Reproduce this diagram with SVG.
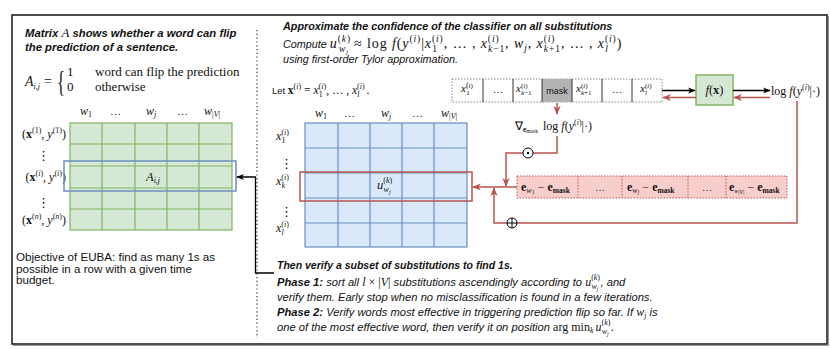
<svg xmlns="http://www.w3.org/2000/svg" width="830" height="350" viewBox="0 0 830 350">
<style>
.sans{font-family:"Liberation Sans",Arial,sans-serif;fill:#111}
.bi{font-weight:bold;font-style:italic}
.it{font-style:italic}
.m{font-family:"Liberation Serif","Times New Roman",serif;font-style:italic;fill:#111}
.up{font-family:"Liberation Serif","Times New Roman",serif;font-style:normal;font-weight:normal}
.bx{font-family:"Liberation Serif","Times New Roman",serif;font-style:normal;font-weight:bold}
.s{font-size:8px}
.s9{font-size:9.5px}
.ss{font-size:6px}
.vd{font-family:"DejaVu Sans",sans-serif;font-size:13px;fill:#111}
.g{fill:#d5e8d4;stroke:#82b366;stroke-width:1.2}
.gl{stroke:#82b366;stroke-width:1.2}
.b{fill:#dae8fc;stroke:#6c8ebf;stroke-width:1.2}
.bl{stroke:#6c8ebf;stroke-width:1.2}
.rd{fill:#f8cecc;stroke:#b85450;stroke-width:1;stroke-dasharray:1.5 1.5}
.rdl{stroke:#b85450;stroke-width:1;stroke-dasharray:1.5 1.5}
.redc{fill:none;stroke:#b85450;stroke-width:1.5}
.blk{fill:none;stroke:#000;stroke-width:1.3}
.op{fill:#fff;stroke:#000;stroke-width:1}
.cm .m,.cm .up{letter-spacing:0.9px}
</style>
<defs>
<marker id="ak" viewBox="0 0 10 10" refX="9" refY="5" markerWidth="8" markerHeight="8" orient="auto" markerUnits="userSpaceOnUse"><path d="M0,1 L10,5 L0,9 L3,5 z" fill="#000"/></marker>
<marker id="ar" viewBox="0 0 10 10" refX="9" refY="5" markerWidth="9" markerHeight="9" orient="auto" markerUnits="userSpaceOnUse"><path d="M0,1 L10,5 L0,9 L3,5 z" fill="#b85450"/></marker>
</defs>
<rect width="830" height="350" fill="#fff"/>
<!-- frame -->
<rect x="12" y="15" width="815" height="329" fill="none" stroke="#222" stroke-width="1.6"/>
<path d="M828.5 16 V345.5 H13" fill="none" stroke="#999" stroke-width="1"/>
<line x1="257" y1="30" x2="257" y2="338" stroke="#333" stroke-width="1.2" stroke-dasharray="1.2 2.6"/>

<!-- left panel -->
<g id="left-title">
<text class="sans bi" font-size="11.3" x="25" y="37">Matrix <tspan class="m" font-weight="normal" font-size="13">A</tspan> shows whether a word can flip</text>
<text class="sans bi" font-size="11.3" x="25" y="51">the prediction of a sentence.</text>
</g>
<g id="formula">
<text class="m" font-size="14" x="25" y="86">A<tspan class="s" font-size="9" dy="3">i,j</tspan><tspan class="up" font-size="14" dy="-3" dx="4">=</tspan></text>
<text class="up" font-size="30" x="0" y="0" transform="translate(57,91) scale(0.55,1)" fill="#111">{</text>
<text class="up" font-size="13" x="67" y="76" fill="#111">1</text>
<text class="up" font-size="13" x="95" y="76" fill="#111">word can flip the prediction</text>
<text class="up" font-size="13" x="67" y="91" fill="#111">0</text>
<text class="up" font-size="13" x="95" y="91" fill="#111">otherwise</text>
</g>
<g id="matrix-A">
<text class="m" font-size="12" x="80" y="115">w<tspan class="up s" dy="2">1</tspan></text>
<text class="up" font-size="11" x="110" y="115" fill="#111">…</text>
<text class="m" font-size="12" x="146" y="115">w<tspan class="s" dy="2">j</tspan></text>
<text class="up" font-size="11" x="177" y="115" fill="#111">…</text>
<text class="m" font-size="12" x="204" y="115">w<tspan class="up s" dy="2">|</tspan><tspan class="s">V</tspan><tspan class="up s">|</tspan></text>
<rect class="g" x="70" y="123" width="162" height="107"/>
<path class="gl" d="M102 123V230M135 123V230M167 123V230M199 123V230M70 144H232M70 166H232M70 188H232M70 209H232"/>
<text class="m" font-size="12.5" x="146" y="181">A<tspan class="s" dy="2">i,j</tspan></text>
<text class="m" font-size="12" x="66" y="138" text-anchor="end"><tspan class="up">(</tspan><tspan class="bx">x</tspan><tspan class="up s" dy="-5">(1)</tspan><tspan dy="5">, y</tspan><tspan class="up s" dy="-5">(1)</tspan><tspan class="up" dy="5">)</tspan></text>
<text class="vd" x="37" y="160">⋮</text>
<text class="m" font-size="12" x="66" y="181" text-anchor="end"><tspan class="up">(</tspan><tspan class="bx">x</tspan><tspan class="up s" dy="-5">(</tspan><tspan class="s">i</tspan><tspan class="up s">)</tspan><tspan dy="5">, y</tspan><tspan class="up s" dy="-5">(</tspan><tspan class="s">i</tspan><tspan class="up s">)</tspan><tspan class="up" dy="5">)</tspan></text>
<text class="vd" x="37" y="207">⋮</text>
<text class="m" font-size="12" x="66" y="224" text-anchor="end"><tspan class="up">(</tspan><tspan class="bx">x</tspan><tspan class="up s" dy="-5">(</tspan><tspan class="s">n</tspan><tspan class="up s">)</tspan><tspan dy="5">, y</tspan><tspan class="up s" dy="-5">(</tspan><tspan class="s">n</tspan><tspan class="up s">)</tspan><tspan class="up" dy="5">)</tspan></text>
<rect x="64" y="161" width="172" height="30" fill="none" stroke="#6c8ebf" stroke-width="1.5"/>
</g>
<g id="objective">
<text class="sans" font-size="11.6" x="16" y="261">Objective of EUBA: find as many 1s as</text>
<text class="sans" font-size="11.6" x="16" y="272.5">possible in a row with a given time</text>
<text class="sans" font-size="11.6" x="16" y="284">budget.</text>
</g>

<!-- right panel -->
<g id="right-title">
<text class="sans bi" font-size="10.8" x="283" y="30">Approximate the confidence of the classifier on all substitutions</text>
<text class="sans it cm" font-size="10.8" x="283" y="48">Compute <tspan class="m" font-size="14">u</tspan><tspan class="m up s9" dy="-6">(</tspan><tspan class="m s9">k</tspan><tspan class="m up s9">)</tspan><tspan class="m s9" dx="-12" dy="9.5">w</tspan><tspan class="m" font-size="6.5" dy="2">j</tspan><tspan class="m up" font-size="14" dx="5" dy="-5.5">≈ log </tspan><tspan class="m" font-size="14">f</tspan><tspan class="m up" font-size="14">(</tspan><tspan class="m" font-size="14">y</tspan><tspan class="m up s9" dy="-6">(</tspan><tspan class="m s9">i</tspan><tspan class="m up s9">)</tspan><tspan class="m up" font-size="14" dy="6">|</tspan><tspan class="m" font-size="14">x</tspan><tspan class="m up s9" dy="-6">(</tspan><tspan class="m s9">i</tspan><tspan class="m up s9">)</tspan><tspan class="m up s9" dx="-11.5" dy="9.5">1</tspan><tspan class="m up" font-size="14" dx="6" dy="-3.5">, … , </tspan><tspan class="m" font-size="14">x</tspan><tspan class="m up s9" dy="-6">(</tspan><tspan class="m s9">i</tspan><tspan class="m up s9">)</tspan><tspan class="m s9" dx="-11.5" dy="9.5">k</tspan><tspan class="m up s9">−1</tspan><tspan class="m up" font-size="14" dy="-3.5">, </tspan><tspan class="m" font-size="14">w</tspan><tspan class="m s9" dy="3">j</tspan><tspan class="m up" font-size="14" dy="-3">, </tspan><tspan class="m" font-size="14">x</tspan><tspan class="m up s9" dy="-6">(</tspan><tspan class="m s9">i</tspan><tspan class="m up s9">)</tspan><tspan class="m s9" dx="-11.5" dy="9.5">k</tspan><tspan class="m up s9">+1</tspan><tspan class="m up" font-size="14" dy="-3.5">, … , </tspan><tspan class="m" font-size="14">x</tspan><tspan class="m up s9" dy="-6">(</tspan><tspan class="m s9">i</tspan><tspan class="m up s9">)</tspan><tspan class="m s9" dx="-11.5" dy="9.5">l</tspan><tspan class="m up" font-size="14" dx="8" dy="-3.5">)</tspan></text>
<text class="sans it" font-size="10.8" x="283" y="63">using first-order Tylor approximation.</text>
</g>
<g id="let-text">
<text class="sans" font-size="9.5" x="272" y="94">Let <tspan class="bx" font-size="11.5">x</tspan><tspan class="m up s" dy="-5">(</tspan><tspan class="m s">i</tspan><tspan class="m up s">)</tspan><tspan class="m up" font-size="11.5" dy="5"> = </tspan><tspan class="m" font-size="11.5">x</tspan><tspan class="m up s" dy="-5">(</tspan><tspan class="m s">i</tspan><tspan class="m up s">)</tspan><tspan class="m up s" dx="-7.5" dy="8">1</tspan><tspan class="m up" font-size="11.5" dx="3.5" dy="-3">, … , </tspan><tspan class="m" font-size="11.5">x</tspan><tspan class="m up s" dy="-5">(</tspan><tspan class="m s">i</tspan><tspan class="m up s">)</tspan><tspan class="m s" dx="-7.5" dy="8">l</tspan><tspan class="m up" font-size="11.5" dx="7" dy="-3">.</tspan></text>
</g>
<g id="sequence">
<rect x="452" y="79" width="210" height="23" fill="#fff" stroke="#888" stroke-width="1" stroke-dasharray="1.5 1.5"/>
<rect x="542" y="79" width="30" height="23" fill="#b3b3b3"/>
<path d="M483 79V102M513 79V102M542 79V102M572 79V102M602 79V102M632 79V102" stroke="#333" stroke-width="1"/>
<text class="m" font-size="11" x="461" y="92">x<tspan class="up s" font-size="7" dy="-4">(</tspan><tspan font-size="7">i</tspan><tspan class="up" font-size="7">)</tspan><tspan class="up" font-size="7" dx="-6.6" dy="7">1</tspan></text>
<text class="up" font-size="10" x="498" y="93" text-anchor="middle" fill="#111">…</text>
<text class="m" font-size="11" x="516" y="92">x<tspan class="up" font-size="7" dy="-4">(</tspan><tspan font-size="7">i</tspan><tspan class="up" font-size="7">)</tspan><tspan font-size="7" dx="-6.6" dy="7">k</tspan><tspan class="up" font-size="7">−1</tspan></text>
<text class="sans" font-size="9" x="557" y="94" text-anchor="middle" fill="#333">mask</text>
<text class="m" font-size="11" x="576" y="92">x<tspan class="up" font-size="7" dy="-4">(</tspan><tspan font-size="7">i</tspan><tspan class="up" font-size="7">)</tspan><tspan font-size="7" dx="-6.6" dy="7">k</tspan><tspan class="up" font-size="7">+1</tspan></text>
<text class="up" font-size="10" x="617" y="93" text-anchor="middle" fill="#111">…</text>
<text class="m" font-size="11" x="640" y="92">x<tspan class="up" font-size="7" dy="-4">(</tspan><tspan font-size="7">i</tspan><tspan class="up" font-size="7">)</tspan><tspan font-size="7" dx="-6.6" dy="7">l</tspan></text>
</g>
<g id="fx">
<rect x="696" y="75" width="37" height="30" fill="#d5e8d4" stroke="#82b366" stroke-width="1.5"/>
<text class="m" font-size="12.5" x="714.5" y="94" text-anchor="middle">f<tspan class="up">(</tspan><tspan class="bx">x</tspan><tspan class="up">)</tspan></text>
</g>
<g id="logf">
<text class="up" font-size="12" x="771" y="95" fill="#111">log <tspan class="m">f</tspan>(<tspan class="m">y</tspan><tspan class="s" dy="-5">(</tspan><tspan class="m s">i</tspan><tspan class="s">)</tspan><tspan dy="5">|·)</tspan></text>
</g>
<g id="grad">
<text class="up" font-size="12" x="515" y="130" fill="#111">∇<tspan class="bx" font-size="7.5" dy="2">e</tspan><tspan class="up" font-size="5.5" dy="1">mask</tspan><tspan dx="2" dy="-3"> log </tspan><tspan class="m">f</tspan>(<tspan class="m">y</tspan><tspan class="s" dy="-5">(</tspan><tspan class="m s">i</tspan><tspan class="s">)</tspan><tspan dy="5">|·)</tspan></text>
</g>
<g id="matrix-U">
<text class="m" font-size="12" x="315" y="117">w<tspan class="up s" dy="2">1</tspan></text>
<text class="up" font-size="11" x="344" y="117" fill="#111">…</text>
<text class="m" font-size="12" x="381" y="117">w<tspan class="s" dy="2">j</tspan></text>
<text class="up" font-size="11" x="412" y="117" fill="#111">…</text>
<text class="m" font-size="12" x="441" y="117">w<tspan class="up s" dy="2">|</tspan><tspan class="s">V</tspan><tspan class="up s">|</tspan></text>
<rect class="b" x="305" y="123" width="162" height="124"/>
<path class="bl" d="M338 123V247M370 123V247M402 123V247M434 123V247M305 148H467M305 173H467M305 198H467M305 223H467"/>
<text class="m" font-size="12.5" x="377" y="189">u<tspan class="up s" dy="-6">(</tspan><tspan class="s">k</tspan><tspan class="up s">)</tspan><tspan class="s" dx="-8.6" dy="9">w</tspan><tspan class="ss" dy="2">j</tspan></text>
<text class="m" font-size="12" x="276" y="140">x<tspan class="up s" dy="-5">(</tspan><tspan class="s">i</tspan><tspan class="up s">)</tspan><tspan class="up s" dx="-7.5" dy="8">1</tspan></text>
<text class="vd" x="280" y="168">⋮</text>
<text class="m" font-size="12" x="276" y="185">x<tspan class="up s" dy="-5">(</tspan><tspan class="s">i</tspan><tspan class="up s">)</tspan><tspan class="s" dx="-7.5" dy="8">k</tspan></text>
<text class="vd" x="280" y="216">⋮</text>
<text class="m" font-size="12" x="276" y="232">x<tspan class="up s" dy="-5">(</tspan><tspan class="s">i</tspan><tspan class="up s">)</tspan><tspan class="s" dx="-7.5" dy="8">l</tspan></text>
<rect x="300" y="172" width="172" height="29" fill="none" stroke="#b85450" stroke-width="1.5"/>
</g>
<g id="e-vector">
<rect class="rd" x="517" y="176" width="270" height="22"/>
<path class="rdl" d="M578 176V198M622 176V198M688 176V198M726 176V198"/>
<text class="bx" font-size="12" x="521" y="191" fill="#111">e<tspan class="m s" font-weight="normal" dy="2">w</tspan><tspan class="up ss" dy="1">1</tspan><tspan class="up" dy="-3"> − </tspan>e<tspan font-size="7.5" dy="2">mask</tspan></text>
<text class="up" font-size="10" x="600" y="191" text-anchor="middle" fill="#111">…</text>
<text class="bx" font-size="12" x="627" y="191" fill="#111">e<tspan class="m s" font-weight="normal" dy="2">w</tspan><tspan class="m ss" font-weight="normal" dy="1">j</tspan><tspan class="up" dy="-3"> − </tspan>e<tspan font-size="7.5" dy="2">mask</tspan></text>
<text class="up" font-size="10" x="707" y="191" text-anchor="middle" fill="#111">…</text>
<text class="bx" font-size="12" x="729" y="191" fill="#111">e<tspan class="m ss" font-weight="normal" dy="2">w</tspan><tspan class="up ss" dy="1">|</tspan><tspan class="m ss" font-weight="normal">V</tspan><tspan class="up ss">|</tspan><tspan class="up" dy="-3"> − </tspan>e<tspan font-size="7.5" dy="2">mask</tspan></text>
</g>

<!-- connectors -->
<g id="connectors">
<line class="blk" x1="662" y1="90.5" x2="695" y2="90.5" marker-end="url(#ak)"/>
<line class="blk" x1="733" y1="90.5" x2="770" y2="90.5" marker-end="url(#ak)"/>
<line class="redc" x1="770" y1="97.5" x2="734" y2="97.5" marker-end="url(#ar)"/>
<line class="redc" x1="696" y1="97.5" x2="663" y2="97.5" marker-end="url(#ar)"/>
<line class="redc" x1="557" y1="103" x2="557" y2="114" marker-end="url(#ar)"/>
<path class="redc" d="M557 136V153H506V186" marker-end="url(#ar)"/>
<line class="redc" x1="517" y1="187" x2="473" y2="187" marker-end="url(#ar)"/>
<path class="redc" d="M797 101V223H494V188" marker-end="url(#ar)"/>
<path class="blk" d="M274 273H255.5V177H237" marker-end="url(#ak)"/>
<g id="odot"><circle class="op" cx="528" cy="153" r="5"/><circle cx="528" cy="153" r="1.2" fill="#000"/></g>
<g id="oplus"><circle class="op" cx="512" cy="223" r="5"/><path d="M507 223H517M512 218V228" stroke="#000" stroke-width="1"/></g>
</g>

<g id="verify-text">
<text class="sans bi" font-size="10.5" x="277" y="269">Then verify a subset of substitutions to find 1s.</text>
<text class="sans it" font-size="11.2" x="277" y="286"><tspan class="bi">Phase 1:</tspan> sort all <tspan class="m" font-size="12">l</tspan><tspan class="m up" font-size="12"> × |</tspan><tspan class="m" font-size="12">V</tspan><tspan class="m up" font-size="12">|</tspan> substitutions ascendingly according to <tspan class="m" font-size="12">u</tspan><tspan class="m up s" dy="-6">(</tspan><tspan class="m s">k</tspan><tspan class="m up s">)</tspan><tspan class="m s" dx="-8.6" dy="9">w</tspan><tspan class="m ss" dy="2">j</tspan><tspan dx="2" dy="-5">, and</tspan></text>
<text class="sans it" font-size="11.2" x="277" y="301">verify them. Early stop when no misclassification is found in a few iterations.</text>
<text class="sans it" font-size="11.2" x="277" y="316"><tspan class="bi">Phase 2:</tspan> Verify words most effective in triggering prediction flip so far. If <tspan class="m" font-size="12">w</tspan><tspan class="m s" dy="2">j</tspan><tspan dy="-2"> is</tspan></text>
<text class="sans it" font-size="11.2" x="277" y="331">one of the most effective word, then verify it on position <tspan class="m up" font-size="12">arg min</tspan><tspan class="m s" dy="2">k</tspan><tspan class="m" font-size="12" dx="2" dy="-2">u</tspan><tspan class="m up s" dy="-6">(</tspan><tspan class="m s">k</tspan><tspan class="m up s">)</tspan><tspan class="m s" dx="-8.6" dy="9">w</tspan><tspan class="m ss" dy="2">j</tspan><tspan class="m up" font-size="12" dx="2" dy="-5">.</tspan></text>
</g>
</svg>
